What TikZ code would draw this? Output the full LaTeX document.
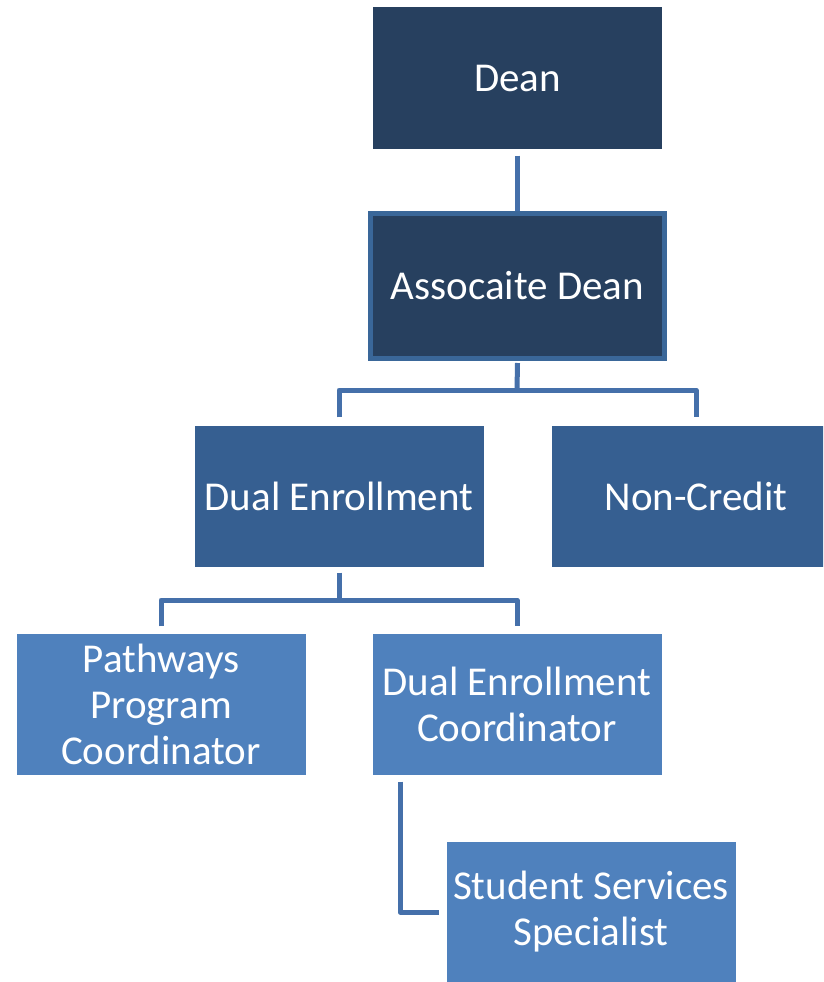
\documentclass[tikz,border=0pt]{standalone}
\usepackage{fontspec}
\setmainfont{Carlito}
\usepackage{tikz}
\usepackage{xcolor}
\usetikzlibrary{positioning}

\definecolor{navy}{HTML}{27405F}
\definecolor{midblue}{HTML}{365F91}
\definecolor{lightblue}{HTML}{4F81BD}
\definecolor{linkblue}{HTML}{4570AA}
\definecolor{rimblue}{HTML}{3A6799}

\begin{document}
\begin{tikzpicture}[x=1pt,y=-1pt,
  box/.style={minimum width=289pt,minimum height=141pt,inner sep=0pt,text=white,
    align=center,font=\fontsize{41}{46}\selectfont},
  link/.style={linkblue,line width=5pt,line join=round}]
\clip (0,0) rectangle (823,982);
\fill[white] (0,0) rectangle (823,982);

\node[box,fill=navy] (dean) at (517.5,78) {Dean};
\node[box,fill=navy,draw=rimblue,line width=5pt,minimum width=294pt,minimum height=145pt] (assoc) at (517.5,286) {Assocaite Dean};

\node[box,fill=midblue] (dual) at (339,496) {Dual Enrollment};
\node[box,fill=midblue] (nonc) at (696,496) {Non-Credit};

\node[box,fill=lightblue] (path) at (161,704) {Pathways\\Program\\Coordinator};
\node[box,fill=lightblue] (decoord) at (517,704) {Dual Enrollment\\Coordinator};
\node[box,fill=lightblue] (sss) at (591,912) {Student Services\\Specialist};

\coordinate (abar) at (517,390);
\coordinate (dbar) at (339,600);

\draw[link] ([yshift=-7pt]dean.south) -- (assoc.north);
\draw[link] ([yshift=-2pt]assoc.south) -- (abar);
\draw[link] ([yshift=8pt]dual.north) |- (abar) -| ([yshift=8pt]nonc.north);

\draw[link] ([yshift=-6pt]dual.south) -- (dbar);
\draw[link] ([yshift=7pt]path.north) |- (dbar) -| ([yshift=7pt]decoord.north);

\draw[link] ([xshift=-117pt,yshift=-7pt]decoord.south) |- ([xshift=-7pt]sss.west);
\end{tikzpicture}
\end{document}
